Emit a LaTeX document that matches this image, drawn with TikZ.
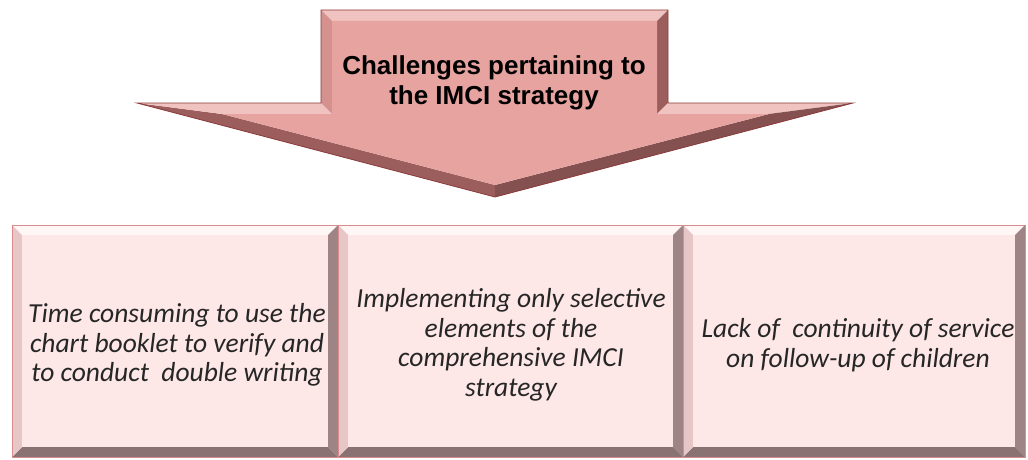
\documentclass[tikz,border=0pt]{standalone}
\usepackage{fontspec}
\setmainfont{Liberation Sans}
\newfontfamily\boxfont{Carlito}
\begin{document}
\begin{tikzpicture}[x=1pt,y=-1pt,
  titletext/.style={font=\fontsize{26}{30}\selectfont\bfseries, align=center, text=black},
  boxtext/.style={font=\boxfont\itshape\fontsize{27.5}{29.5}\selectfont, align=center, text=black!85},
  arrowlight/.style={fill=arrowL},
  arrowmid/.style={fill=arrowM},
  arrowdark/.style={fill=arrowD},
  arrowdarker/.style={fill=arrowDD},
]
\definecolor{arrowF}{HTML}{E6A3A0}
\definecolor{arrowL}{HTML}{F0C2C0}
\definecolor{arrowM}{HTML}{D4918E}
\definecolor{arrowD}{HTML}{9C5E5C}
\definecolor{arrowDD}{HTML}{855050}
\definecolor{arrowB}{HTML}{8B3A3A}
\definecolor{boxF}{HTML}{FDE7E7}
\definecolor{boxT}{HTML}{FFF6F6}
\definecolor{boxL}{HTML}{E6C6C6}
\definecolor{boxR}{HTML}{9E8484}
\definecolor{boxB}{HTML}{8A7272}
\definecolor{boxE}{HTML}{D98C8C}
\useasboundingbox (0,0) rectangle (1028,460);

% ---- arrow ----
\coordinate (A) at (321,10);  \coordinate (Ai) at (332,21);
\coordinate (B) at (668,10);  \coordinate (Bi) at (657,21);
\coordinate (C) at (668,103); \coordinate (Ci) at (657,114);
\coordinate (D) at (853,103); \coordinate (Di) at (769,114);
\coordinate (E) at (495,197); \coordinate (Ei) at (495,185);
\coordinate (F) at (137,103); \coordinate (Fi) at (222,114);
\coordinate (G) at (321,103); \coordinate (Gi) at (332,114);
\fill[arrowlight] (A) -- (B) -- (Bi) -- (Ai) -- cycle;
\fill[arrowdark] (B) -- (C) -- (Ci) -- (Bi) -- cycle;
\fill[arrowlight] (C) -- (D) -- (Di) -- (Ci) -- cycle;
\fill[arrowdarker] (D) -- (E) -- (Ei) -- (Di) -- cycle;
\fill[arrowdark] (E) -- (F) -- (Fi) -- (Ei) -- cycle;
\fill[arrowlight] (F) -- (G) -- (Gi) -- (Fi) -- cycle;
\fill[arrowmid] (G) -- (A) -- (Ai) -- (Gi) -- cycle;
\fill[arrowF] (Ai) -- (Bi) -- (Ci) -- (Di) -- (Ei) -- (Fi) -- (Gi) -- cycle;
\draw[arrowB, line width=0.8pt, line join=miter] (A) -- (B) -- (C) -- (D) -- (E) -- (F) -- (G) -- cycle;
\node[titletext] (title) at (494,83) {Challenges pertaining to\\the IMCI strategy};

% ---- boxes ----
\foreach \xl/\xr/\nm in {12/338/b1, 338/683/b2, 683/1025/b3}{
  \fill[boxT] (\xl,225) -- (\xr,225) -- (\xr-10,235) -- (\xl+10,235) -- cycle;
  \fill[boxR] (\xr,225) -- (\xr,457) -- (\xr-10,447) -- (\xr-10,235) -- cycle;
  \fill[boxB] (\xr,457) -- (\xl,457) -- (\xl+10,447) -- (\xr-10,447) -- cycle;
  \fill[boxL] (\xl,457) -- (\xl,225) -- (\xl+10,235) -- (\xl+10,447) -- cycle;
  \fill[boxF] (\xl+10,235) rectangle (\xr-10,447);
  \draw[boxE, line width=0.8pt] (\xl,225) rectangle (\xr,457);
}
\node[boxtext] (t1) at (177,345) {Time consuming to use the\\chart booklet to verify and\\to conduct\ \ double writing};
\node[boxtext] (t2) at (511,345) {Implementing only selective\\elements of the\\comprehensive IMCI\\strategy};
\node[boxtext] (t3) at (858,345) {Lack of\ \ continuity\ of service\\on follow-up of children};
\end{tikzpicture}
\end{document}
